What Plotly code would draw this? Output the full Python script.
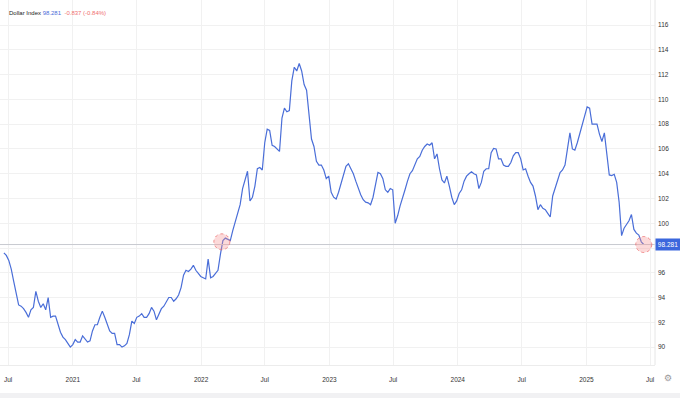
import pandas as pd
import plotly.graph_objects as go

# Weekly closes (Fridays)
start_date = "2020-06-19"
values = [
    97.6, 97.4, 97.0, 96.3, 95.3, 94.2, 93.4, 93.3, 93.1, 92.8,
    92.4, 93.0, 93.2, 94.5, 93.7, 93.2, 93.5, 93.0, 94.0, 92.4,
    92.5, 92.5, 91.9, 91.2, 90.8, 90.6, 90.3, 90.0, 90.2, 90.6,
    90.4, 90.4, 90.9, 90.6, 90.4, 90.5, 91.3, 91.8, 91.8, 92.4,
    92.9, 92.4, 91.9, 91.3, 91.1, 91.1, 90.2, 90.2, 90.0, 90.1,
    90.3, 91.0, 92.1, 91.9, 92.4, 92.5, 92.7, 92.4, 92.4, 92.7,
    93.2, 92.9, 92.2, 92.6, 93.1, 93.3, 93.7, 94.0, 94.0, 93.7,
    93.9, 94.2, 94.8, 95.8, 96.2, 96.1, 96.3, 96.6, 96.2, 95.9,
    95.7, 95.6, 95.5, 97.1, 95.6, 95.7, 96.0, 96.2, 97.5, 98.6,
    98.8, 98.7, 98.6, 99.4, 100.1, 100.7, 101.5, 102.8, 103.5, 104.2,
    101.8, 102.1, 103.0, 104.4, 104.5, 104.3, 106.5, 107.6, 107.5, 106.3,
    106.2, 106.0, 105.8, 108.5, 109.3, 109.0, 109.1, 111.5, 112.6, 112.3,
    112.9, 112.3, 111.2, 110.75, 108.5, 106.8, 106.2, 105.0, 104.7, 104.7,
    104.3, 103.6, 103.8, 102.5, 102.1, 101.95, 102.5, 103.2, 103.7, 104.6,
    104.8, 104.45, 104.0, 103.4, 102.8, 102.3, 101.9, 101.7, 101.65, 101.5,
    102.1, 103.2, 104.1, 104.0, 103.6, 102.7, 102.5, 102.8, 102.7, 100.0,
    100.6, 101.4, 102.0, 102.7, 103.4, 104.0, 104.25, 104.7, 105.2, 105.4,
    105.9, 106.2, 106.4, 106.3, 106.5, 105.2, 105.6, 104.4, 103.5, 103.25,
    103.8, 103.0, 102.1, 101.5, 101.8, 102.4, 102.7, 103.4, 103.8, 104.0,
    104.15, 104.0, 103.9, 102.8, 103.3, 104.2, 104.4, 104.4, 105.7, 106.05,
    106.0, 105.2, 105.2, 104.7, 104.6, 104.6, 104.9, 105.45, 105.7, 105.7,
    105.2, 104.3, 104.4, 103.8, 103.3, 103.0, 102.2, 101.1, 101.5, 101.2,
    101.1, 100.8, 100.5, 102.2, 102.9, 103.5, 104.1, 104.3, 104.7, 106.0,
    107.3, 106.0, 105.9, 106.5, 107.2, 107.9, 108.6, 109.4, 109.3, 108.0,
    108.0, 108.0, 107.2, 106.6, 107.3, 105.4, 103.9, 103.85, 103.95, 103.3,
    101.7, 99.0, 99.6, 99.9, 100.2, 100.7, 99.5, 99.2, 99.05, 98.5,
    98.281,
]
dates = pd.date_range(start_date, periods=len(values), freq="7D")

last_value = 98.281
change_text = "-0.837 (-0.84%)"
marked_dates = ["2022-03-01", dates[-1].strftime("%Y-%m-%d")]
marked_values = [98.5, 98.281]

x_tick_vals = ["2020-07-01", "2021-01-01", "2021-07-01", "2022-01-01", "2022-07-01",
               "2023-01-01", "2023-07-01", "2024-01-01", "2024-07-01", "2025-01-01",
               "2025-07-01"]
x_tick_text = ["Jul", "2021", "Jul", "2022", "Jul", "2023", "Jul", "2024", "Jul", "2025", "Jul"]
y_tick_vals = list(range(90, 117, 2))
# the 98 label sits under the current-price badge
y_tick_text = ["" if v == 98 else str(v) for v in y_tick_vals]

LINE = "#4a6ed8"
FONT = "Liberation Sans, Arial, sans-serif"

fig = go.Figure()
fig.add_trace(go.Scatter(x=dates, y=values, mode="lines",
                         line=dict(color=LINE, width=1.2), hoverinfo="skip"))

# current price line
fig.add_hline(y=last_value, line=dict(color="#c9cbd1", width=1))

for d, v in zip(marked_dates, marked_values):
    fig.add_shape(type="circle", xref="x", yref="y", xsizemode="pixel", ysizemode="pixel",
                  xanchor=d, yanchor=v, x0=-8, x1=8, y0=-8, y1=8,
                  fillcolor="rgba(245,150,150,0.35)",
                  line=dict(color="rgba(235,100,100,0.7)", width=1, dash="dot"))

# right border of plot
fig.add_shape(type="line", xref="paper", yref="paper", x0=1, x1=1, y0=0, y1=1,
              line=dict(color="#e6e6e6", width=1))
# bottom strip
fig.add_shape(type="rect", xref="paper", yref="paper", x0=-0.01, x1=1.05,
              y0=-33/365, y1=-28/365, fillcolor="#f1f1f3", line=dict(width=0))

fig.add_annotation(xref="paper", yref="paper", x=7/655, y=(365-13)/365,
                   xanchor="left", yanchor="middle", showarrow=False,
                   text=("<span style='color:#222'>Dollar Index</span> "
                         f"<span style='color:{LINE}'>{last_value}</span>  "
                         f"<span style='color:#f07070'>{change_text}</span>"),
                   font=dict(family=FONT, size=6))

fig.add_annotation(xref="paper", yref="y", x=1, y=last_value, xanchor="left",
                   yanchor="middle", showarrow=False, text=f"{last_value}",
                   font=dict(family=FONT, size=6.5, color="white"),
                   bgcolor="#3b67dd", borderpad=2, width=20)

fig.add_annotation(xref="paper", yref="paper", x=1 + 13/655, y=-13/365, xanchor="center",
                   yanchor="middle", showarrow=False, text="⚙",
                   font=dict(family="DejaVu Sans", size=9, color="#999"))

fig.update_layout(
    width=680, height=398,
    margin=dict(l=0, r=25, t=0, b=33),
    paper_bgcolor="white", plot_bgcolor="white",
    showlegend=False,
    font=dict(family=FONT, size=6.5, color="#333"),
    xaxis=dict(range=["2020-06-08", "2025-07-15"], tickvals=x_tick_vals, ticktext=x_tick_text,
               showgrid=True, gridcolor="#f1f1f1", gridwidth=1, zeroline=False,
               showline=True, linecolor="#ececec", ticks="", tickfont=dict(size=6.5, color="#333"),
               ticklabelstandoff=8),
    yaxis=dict(range=[88.55, 118.03], side="right", tickvals=y_tick_vals, ticktext=y_tick_text,
               showgrid=True, gridcolor="#f1f1f1", gridwidth=1, zeroline=False,
               showline=False, ticks="", tickfont=dict(size=6.5, color="#333"),
               ticklabelstandoff=2),
)

fig.write_html("out.html", config={"displayModeBar": False},
               post_script="document.body.style.margin='0';document.body.style.overflow='hidden';")
